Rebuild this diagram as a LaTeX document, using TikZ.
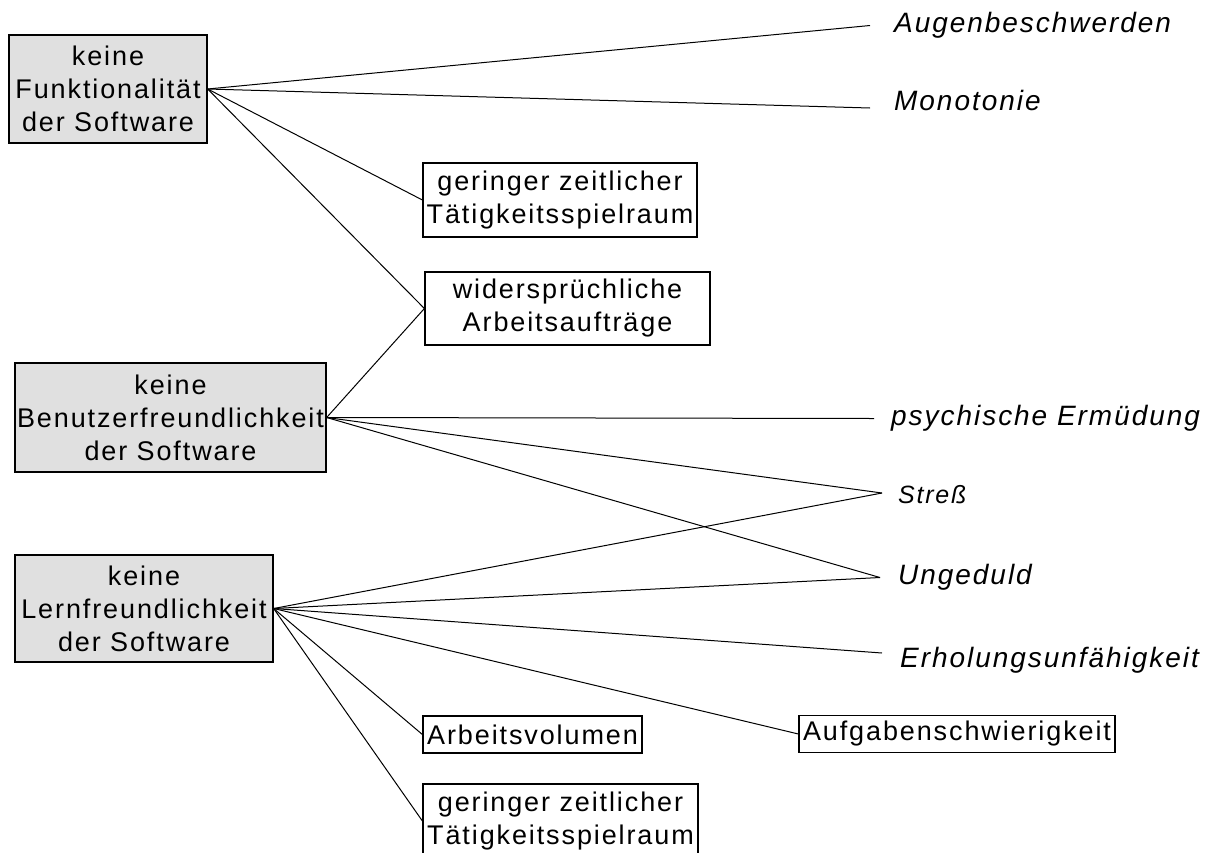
\documentclass[tikz,border=0pt]{standalone}
\usepackage{fontspec}
\setmainfont{Liberation Sans}[LetterSpace=7]
\definecolor{boxgray}{gray}{0.88}
\begin{document}
\begin{tikzpicture}[x=1pt,y=-1pt,
  cause/.style={draw=black,line width=1.3pt,fill=boxgray,inner sep=0pt,align=center,
    font=\fontsize{27}{33}\selectfont},
  factor/.style={draw=black,line width=1.2pt,fill=white,inner sep=0pt,align=center,
    font=\fontsize{27}{33}\selectfont},
  effect/.style={anchor=base west,inner xsep=18pt,inner ysep=0pt,text height=19pt,text depth=6pt,
    font=\fontsize{28}{33}\selectfont\itshape},
  link/.style={line width=1pt}]
\useasboundingbox (0,0) rectangle (1223,852);
% cause boxes
\node[cause,minimum width=198pt,minimum height=108pt] (b1) at (108,89) {keine\\Funktionalität\\der Software};
\node[cause,minimum width=311pt,minimum height=109pt] (b2) at (170.5,417.5) {keine\\Benutzerfreundlichkeit\\der Software};
\node[cause,minimum width=258pt,minimum height=107pt] (b3) at (144,608.5) {keine\\Lernfreundlichkeit\\der Software};
% factor boxes
\node[factor,minimum width=274pt,minimum height=74pt] (g1) at (560,200) {geringer zeitlicher\\Tätigkeitsspielraum};
\node[factor,minimum width=285pt,minimum height=73pt] (w1) at (567.5,308.5) {widersprüchliche\\Arbeitsaufträge};
\node[factor,minimum width=219pt,minimum height=37pt] (arbv) at (532.5,734.5) {Arbeitsvolumen};
\node[factor,minimum width=275pt,minimum height=74pt] (g2) at (560.5,821) {geringer zeitlicher\\Tätigkeitsspielraum};
\node[factor,minimum width=316pt,minimum height=37pt] (aufg) at (957,734) {Aufgabenschwierigkeit};
% effects
\node[effect,inner xsep=24pt] (aug) at (870,32) {Augenbeschwerden};
\node[effect,inner xsep=24pt] (mono) at (870,110) {Monotonie};
\node[effect,inner xsep=17pt] (psych) at (874,425) {psychische Ermüdung};
\node[effect,inner xsep=16pt,font=\fontsize{25}{30}\selectfont\itshape] (stress) at (882,503) {Streß};
\node[effect] (ung) at (880,584) {Ungeduld};
\node[effect] (erh) at (882,667) {Erholungsunfähigkeit};
% connectors
\draw[link] (b1.east) -- (aug.west);
\draw[link] (b1.east) -- ([yshift=-4.5pt]mono.west);
\draw[link] (b1.east) -- (g1.west);
\draw[link] (b1.east) -- (w1.west);
\draw[link] (b2.east) -- (w1.west);
\draw[link] (b2.east) -- (psych.west);
\draw[link] (b2.east) -- ([yshift=3.5pt]stress.west);
\draw[link] (b2.east) -- (ung.west);
\draw[link] (b3.east) -- ([yshift=3.5pt]stress.west);
\draw[link] (b3.east) -- (ung.west);
\draw[link] (b3.east) -- ([yshift=7.5pt]erh.west);
\draw[link] (b3.east) -- (aufg.west);
\draw[link] (b3.east) -- (arbv.west);
\draw[link] (b3.east) -- (g2.west);
\end{tikzpicture}
\end{document}
